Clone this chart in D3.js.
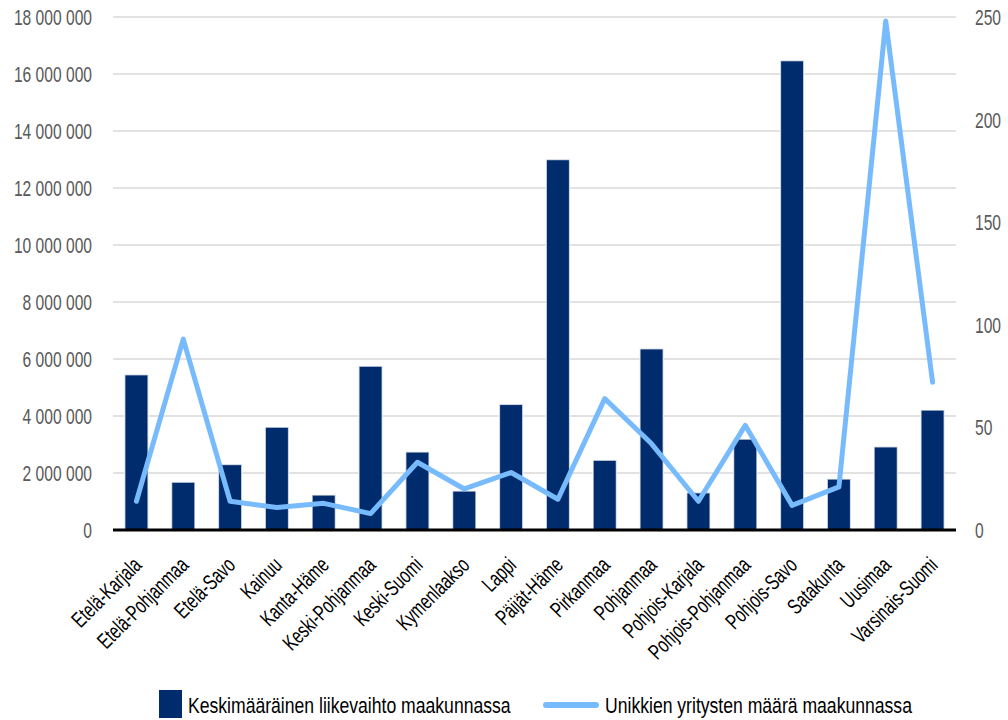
<!DOCTYPE html>
<html>
<head>
<meta charset="utf-8">
<script src="https://cdn.jsdelivr.net/npm/d3@7"></script>
<style>
  html, body { margin: 0; padding: 0; background: #fff; }
  svg text { font-family: "Liberation Sans", Arial, sans-serif; }
</style>
</head>
<body>
<svg id="chart" width="1008" height="720"></svg>
<script>
// Regions (maakunnat)
const regions = [
  "Etelä-Karjala", "Etelä-Pohjanmaa", "Etelä-Savo", "Kainuu", "Kanta-Häme",
  "Keski-Pohjanmaa", "Keski-Suomi", "Kymenlaakso", "Lappi", "Päijät-Häme",
  "Pirkanmaa", "Pohjanmaa", "Pohjois-Karjala", "Pohjois-Pohjanmaa", "Pohjois-Savo",
  "Satakunta", "Uusimaa", "Varsinais-Suomi"
];

// Average turnover per region (€)
const avgTurnover = [
  5450000, 1680000, 2300000, 3610000, 1230000,
  5750000, 2740000, 1370000, 4410000, 13000000,
  2450000, 6360000, 1310000, 3190000, 16470000,
  1790000, 2920000, 4210000
];

// Number of unique companies per region
const companyCount = [
  14, 93, 14, 11, 13,
  8, 33, 20, 28, 15,
  64, 42, 14, 51, 12,
  21, 248, 72
];

const leftTicks = [0, 2e6, 4e6, 6e6, 8e6, 10e6, 12e6, 14e6, 16e6, 18e6];
const rightTicks = [0, 50, 100, 150, 200, 250];

const seriesNames = ["Keskimääräinen liikevaihto maakunnassa", "Unikkien yritysten määrä maakunnassa"];

const barColor = "#002b6c";
const lineColor = "#78bbfd";

// Condensed look: regular sans squeezed horizontally
const tickFont = { size: 22, sx: 0.71 };
const catFont = { size: 22, sx: 0.70 };
const legendFont = { size: 22, sx: 0.8 };

const svg = d3.select("#chart");
const plot = { left: 113, right: 956, top: 17, bottom: 530 };

const x = d3.scaleBand().domain(regions).range([plot.left, plot.right]).paddingInner(0.5).paddingOuter(0.25);
const yL = d3.scaleLinear().domain([0, 18e6]).range([plot.bottom, plot.top]);
const yR = d3.scaleLinear().domain([0, 250]).range([plot.bottom, plot.top]);

const fi = d3.formatLocale({ decimal: ",", thousands: " ", grouping: [3], currency: ["", " €"] });
const fmt = fi.format(",");

// Horizontal gridlines
svg.append("g")
  .selectAll("line")
  .data(leftTicks.filter(d => d > 0))
  .join("line")
  .attr("x1", plot.left).attr("x2", plot.right)
  .attr("y1", d => yL(d)).attr("y2", d => yL(d))
  .attr("stroke", "#d9d9d9").attr("stroke-width", 1.5);

// Left axis labels
svg.append("g")
  .selectAll("text")
  .data(leftTicks)
  .join("text")
  .attr("transform", d => `translate(92,${yL(d)}) scale(${tickFont.sx},1)`)
  .attr("dy", "0.36em")
  .attr("text-anchor", "end")
  .attr("font-size", tickFont.size)
  .attr("fill", "#595959")
  .text(d => fmt(d));

// Right axis labels
svg.append("g")
  .selectAll("text")
  .data(rightTicks)
  .join("text")
  .attr("transform", d => `translate(975,${yR(d)}) scale(${tickFont.sx},1)`)
  .attr("dy", "0.36em")
  .attr("text-anchor", "start")
  .attr("font-size", tickFont.size)
  .attr("fill", "#595959")
  .text(d => d);

// Bars
svg.append("g")
  .selectAll("rect")
  .data(regions)
  .join("rect")
  .attr("x", d => x(d))
  .attr("width", x.bandwidth())
  .attr("y", (d, i) => yL(avgTurnover[i]))
  .attr("height", (d, i) => plot.bottom - yL(avgTurnover[i]))
  .attr("fill", barColor)
  .attr("stroke", "#ffffff").attr("stroke-opacity", 0.7).attr("stroke-width", 1.5);

// Baseline
svg.append("line")
  .attr("x1", plot.left).attr("x2", plot.right)
  .attr("y1", plot.bottom).attr("y2", plot.bottom)
  .attr("stroke", "#000").attr("stroke-width", 3);

// Company count line
const line = d3.line()
  .x((d, i) => x(regions[i]) + x.bandwidth() / 2)
  .y(d => yR(d));

svg.append("path")
  .datum(companyCount)
  .attr("d", line)
  .attr("fill", "none")
  .attr("stroke", lineColor)
  .attr("stroke-width", 5)
  .attr("stroke-linejoin", "round")
  .attr("stroke-linecap", "round");

// Category labels, rotated
svg.append("g")
  .selectAll("text")
  .data(regions)
  .join("text")
  .attr("transform", d => `translate(${x(d) + x.bandwidth() / 2 + 1},${plot.bottom + 31}) rotate(-45) scale(${catFont.sx},1)`)
  .attr("text-anchor", "end")
  .attr("dy", "0.35em")
  .attr("font-size", catFont.size)
  .attr("fill", "#000")
  .text(d => d);

// Legend
const legend = svg.append("g");
legend.append("rect")
  .attr("x", 159).attr("y", 690).attr("width", 23).attr("height", 28)
  .attr("fill", barColor);
legend.append("text")
  .attr("transform", `translate(188,705) scale(${legendFont.sx},1)`)
  .attr("dy", "0.36em")
  .attr("font-size", legendFont.size).attr("fill", "#000")
  .text(seriesNames[0]);
legend.append("line")
  .attr("x1", 546).attr("x2", 596).attr("y1", 705).attr("y2", 705)
  .attr("stroke", lineColor).attr("stroke-width", 6).attr("stroke-linecap", "round");
legend.append("text")
  .attr("transform", `translate(605,705) scale(${legendFont.sx},1)`)
  .attr("dy", "0.36em")
  .attr("font-size", legendFont.size).attr("fill", "#000")
  .text(seriesNames[1]);
</script>
</body>
</html>
